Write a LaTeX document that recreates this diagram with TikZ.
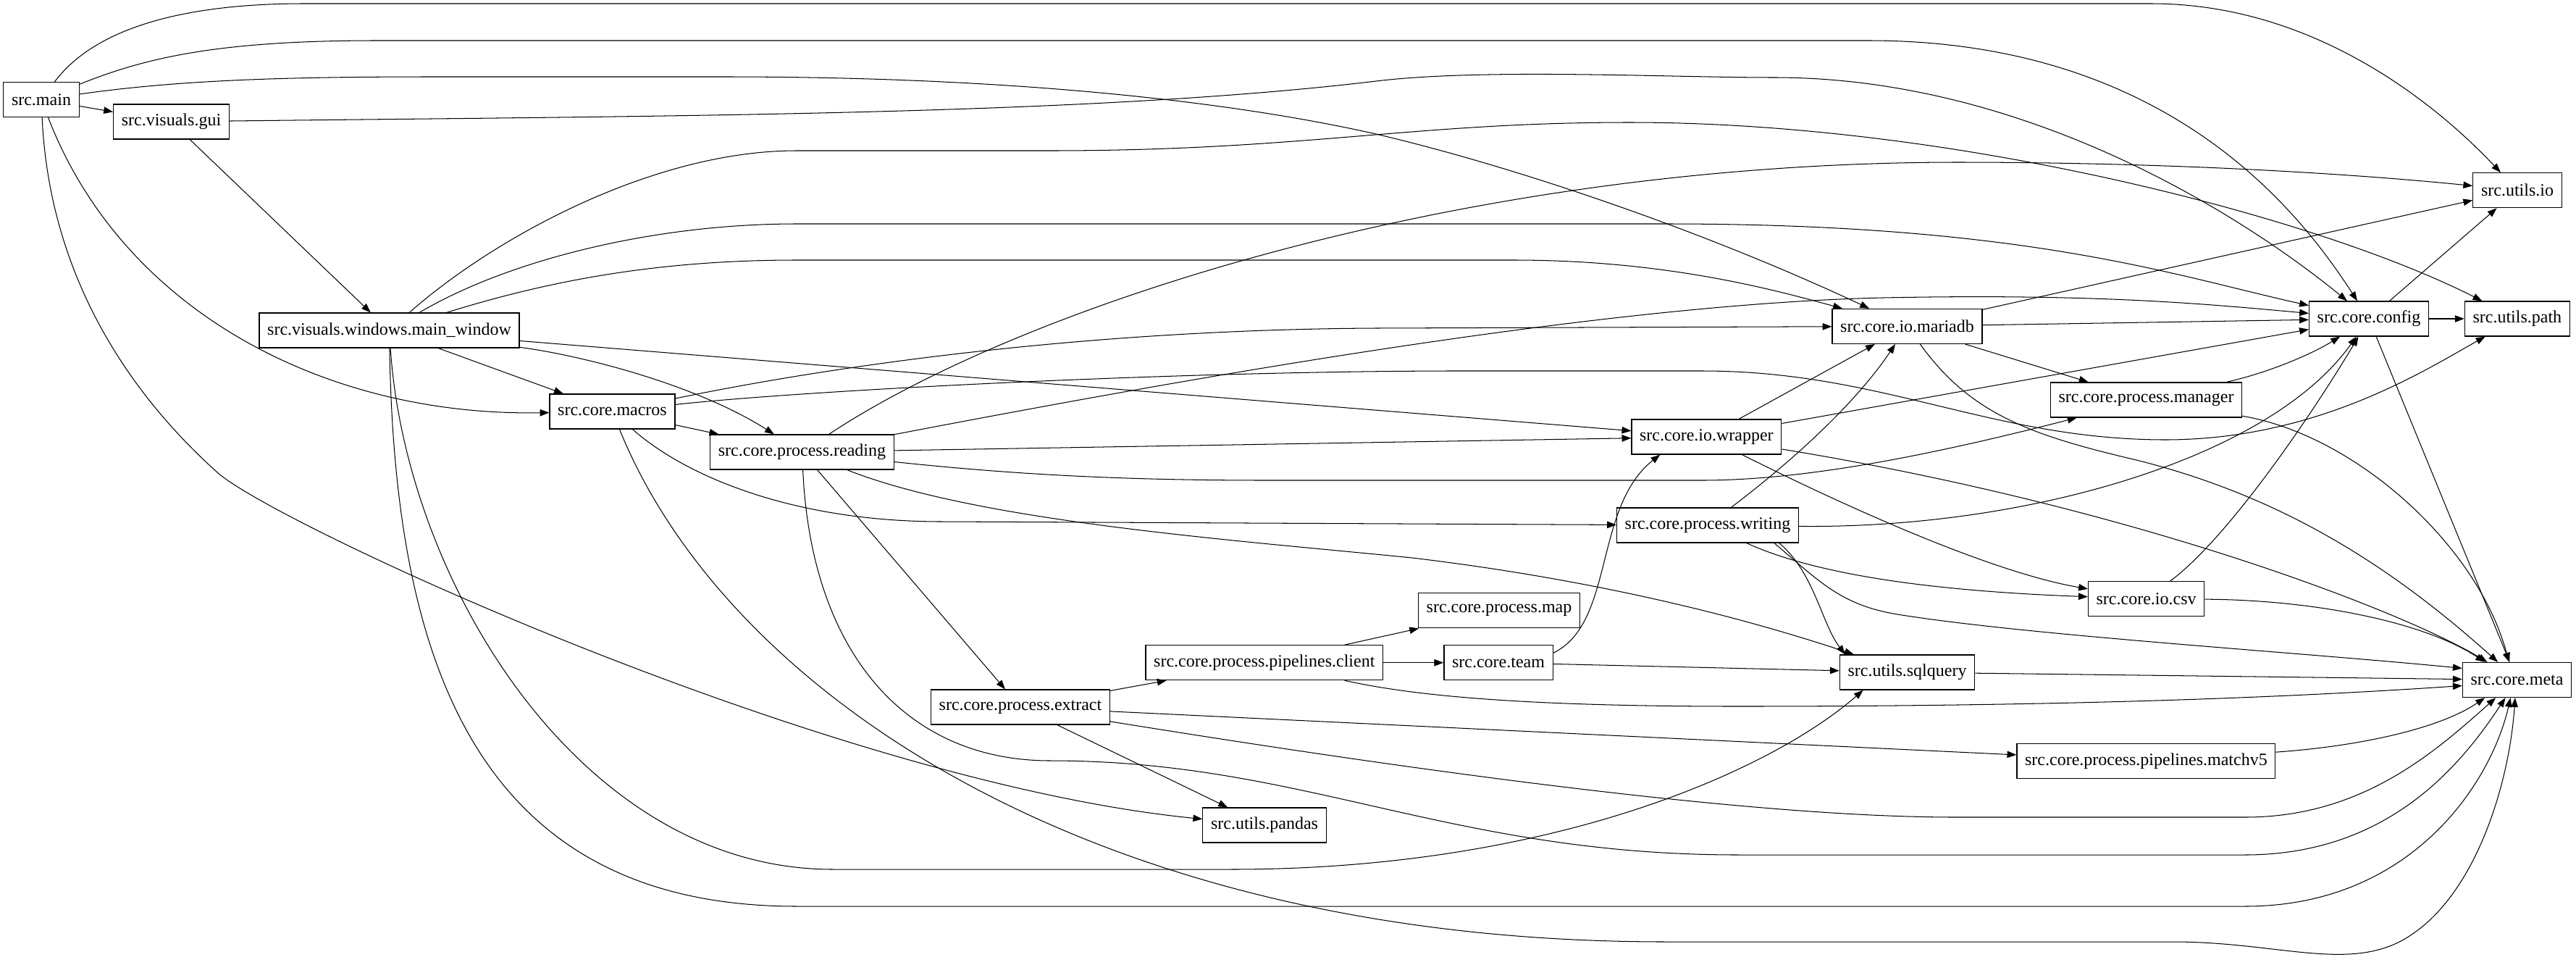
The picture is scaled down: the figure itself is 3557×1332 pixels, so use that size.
\documentclass[tikz,border=0pt]{standalone}
\usepackage{fontspec}
\setmainfont{Liberation Serif}
\usepackage{tikz}
\usetikzlibrary{arrows.meta}

\begin{document}
\begin{tikzpicture}[x=0.5833pt,y=-0.5833pt,
    mod/.style={draw,line width=0.7pt,inner xsep=6.5pt,inner ysep=0pt,minimum height=28pt,font=\fontsize{14}{16}\selectfont},
    dep/.style={line width=0.6pt,-{Triangle[length=7.5pt,width=5.5pt]}}]
    \useasboundingbox (0,0) rectangle (3557,1332);
        \node[mod] (main) at (57,137.5) {src.main};
        \node[mod] (gui) at (236.5,168) {src.visuals.gui};
        \node[mod] (mw) at (537.5,456) {src.visuals.windows.main\_window};
        \node[mod] (macros) at (845.5,568) {src.core.macros};
        \node[mod] (reading) at (1107.5,624) {src.core.process.reading};
        \node[mod] (extract) at (1409,976) {src.core.process.extract};
        \node[mod] (client) at (1745.8,914.7) {src.core.process.pipelines.client};
        \node[mod] (pmap) at (2070,842.8) {src.core.process.map};
        \node[mod] (team) at (2069,914.7) {src.core.team};
        \node[mod] (pandas) at (1746,1139) {src.utils.pandas};
        \node[mod] (mariadb) at (2633.5,450.4) {src.core.io.mariadb};
        \node[mod] (wrapper) at (2356.4,603) {src.core.io.wrapper};
        \node[mod] (writing) at (2358,725) {src.core.process.writing};
        \node[mod] (manager) at (2963.5,552) {src.core.process.manager};
        \node[mod] (csv) at (2963.6,826.7) {src.core.io.csv};
        \node[mod] (sqlquery) at (2633.5,928) {src.utils.sqlquery};
        \node[mod] (matchv5) at (2963.4,1050.5) {src.core.process.pipelines.matchv5};
        \node[mod] (config) at (3271,440) {src.core.config};
        \node[mod] (uio) at (3476,262.7) {src.utils.io};
        \node[mod] (upath) at (3475.8,440) {src.utils.path};
        \node[mod] (meta) at (3475.5,938.5) {src.core.meta};

        \draw[dep] (main) -- (gui);
        \draw[dep] (main) .. controls (170,430) and (450,575) .. (macros);
        \draw[dep] (main) .. controls (70,420) and (220,580) .. (300,652) .. controls (380,724) and (1150,1080) .. (pandas);
        \draw[dep] (main) .. controls (130,40) and (250,5) .. (420,5) -- (2970,5) .. controls (3200,5) and (3370,150) .. (uio);
        \draw[dep] (main) .. controls (200,80) and (300,56) .. (520,56) -- (2580,56) .. controls (3000,56) and (3180,300) .. (config);
        \draw[dep] (main) .. controls (250,110) and (400,106) .. (600,106) -- (1000,106) .. controls (1400,106) and (1700,140) .. (1900,185) .. controls (2100,232) and (2360,322) .. (mariadb);

        \draw[dep] (gui) -- (mw);
        \draw[dep] (gui) .. controls (900,160) and (1500,160) .. (1900,112) .. controls (2050,94) and (2300,107) .. (2450,107) .. controls (2800,107) and (3100,300) .. (config);

        \draw[dep] (mw) -- (macros);
        \draw[dep] (mw) .. controls (800,490) and (960,530) .. (reading);
        \draw[dep] (mw) -- (wrapper);
        \draw[dep] (mw) .. controls (750,390) and (900,359) .. (1100,359) -- (2090,359) .. controls (2300,359) and (2450,400) .. (mariadb);
        \draw[dep] (mw) .. controls (700,360) and (900,309) .. (1100,309) -- (2300,309) .. controls (2800,309) and (3000,380) .. (config);
        \draw[dep] (mw) .. controls (680,330) and (900,208) .. (1100,208) -- (1450,208) .. controls (1800,208) and (1950,169) .. (2250,169) .. controls (2700,169) and (3200,300) .. (upath);
        \draw[dep] (mw) .. controls (560,800) and (800,1200) .. (1150,1200) -- (1700,1200) .. controls (2150,1200) and (2450,1060) .. (sqlquery.202);
        \draw[dep] (mw) .. controls (545,900) and (650,1251) .. (1100,1251) -- (3100,1251) .. controls (3330,1251) and (3440,1080) .. (meta.250);

        \draw[dep] (macros) -- (reading);
        \draw[dep] (macros) .. controls (1150,505) and (1500,455) .. (1900,453) -- (mariadb);
        \draw[dep] (macros) .. controls (1100,540) and (1600,513) .. (2000,512) -- (2350,512) .. controls (2600,512) and (2750,607) .. (2990,607) .. controls (3200,607) and (3350,510) .. (upath);
        \draw[dep] (macros) .. controls (950,660) and (1100,720) .. (1300,720) -- (writing);
        \draw[dep] (macros) .. controls (1000,950) and (1500,1300) .. (2300,1300) -- (3000,1300) .. controls (3150,1300) and (3250,1345) .. (3330,1290) .. controls (3420,1230) and (3465,1080) .. (meta.264);

        \draw[dep] (reading) -- (extract);
        \draw[dep] (reading) -- (wrapper);
        \draw[dep] (reading) .. controls (1400,430) and (2000,225) .. (2700,224) .. controls (3000,224) and (3250,240) .. (uio);
        \draw[dep] (reading) .. controls (1600,530) and (2200,420) .. (2600,411) .. controls (2900,405) and (3050,420) .. (config);
        \draw[dep] (reading) .. controls (1400,655) and (1550,663) .. (1750,663) -- (2350,663) .. controls (2500,663) and (2683,624) .. (manager);
        \draw[dep] (reading) .. controls (1350,720) and (1700,745) .. (1950,770) .. controls (2200,800) and (2400,850) .. (sqlquery);
        \draw[dep] (reading) .. controls (1120,900) and (1250,1050) .. (1450,1050) .. controls (1800,1050) and (2000,1180) .. (2400,1180) -- (3100,1180) .. controls (3300,1180) and (3400,1053) .. (meta.237);

        \draw[dep] (extract) -- (client);
        \draw[dep] (extract) -- (pandas);
        \draw[dep] (extract) -- (matchv5);
        \draw[dep] (extract) .. controls (1900,1055) and (2400,1128) .. (2700,1128) -- (3100,1128) .. controls (3260,1128) and (3360,1040) .. (meta.220);

        \draw[dep] (client) -- (pmap);
        \draw[dep] (client) -- (team);
        \draw[dep] (client) .. controls (1950,960) and (2100,975) .. (2400,975) .. controls (2900,975) and (3200,960) .. (meta.186);

        \draw[dep] (team.10) .. controls (2230,860) and (2200,700) .. (wrapper.201);
        \draw[dep] (team) -- (sqlquery);

        \draw[dep] (wrapper) -- (mariadb);
        \draw[dep] (wrapper) -- (config);
        \draw[dep] (wrapper) .. controls (2550,700) and (2750,790) .. (csv);
        \draw[dep] (wrapper) .. controls (2950,700) and (3320,845) .. (meta.149);

        \draw[dep] (writing) .. controls (2470,640) and (2560,560) .. (mariadb);
        \draw[dep] (writing) .. controls (2800,730) and (3135,632) .. (config);
        \draw[dep] (writing) .. controls (2500,790) and (2650,815) .. (csv);
        \draw[dep] (writing.346) .. controls (2505,790) and (2515,860) .. (sqlquery.164);
        \draw[dep] (writing.345) .. controls (2510,800) and (2540,835) .. (2620,848) .. controls (2800,877) and (3170,900) .. (meta.168);

        \draw[dep] (mariadb) -- (uio);
        \draw[dep] (mariadb) -- (config);
        \draw[dep] (mariadb) -- (manager);
        \draw[dep] (mariadb) .. controls (2720,570) and (2800,600) .. (2950,635) .. controls (3150,685) and (3300,780) .. (meta.137);

        \draw[dep] (manager) .. controls (3130,515) and (3190,490) .. (config);
        \draw[dep] (manager) .. controls (3250,600) and (3420,750) .. (meta.114);

        \draw[dep] (csv) .. controls (3080,740) and (3200,560) .. (config);
        \draw[dep] (csv) .. controls (3200,828) and (3350,860) .. (meta.151);

        \draw[dep] (config) -- (uio);
        \draw[dep] (config) -- (upath);
        \draw[dep] (config) -- (meta);

        \draw[dep] (sqlquery) -- (meta);
        \draw[dep] (matchv5) .. controls (3260,1030) and (3370,1005) .. (meta.209);
    \end{tikzpicture}
\end{document}
